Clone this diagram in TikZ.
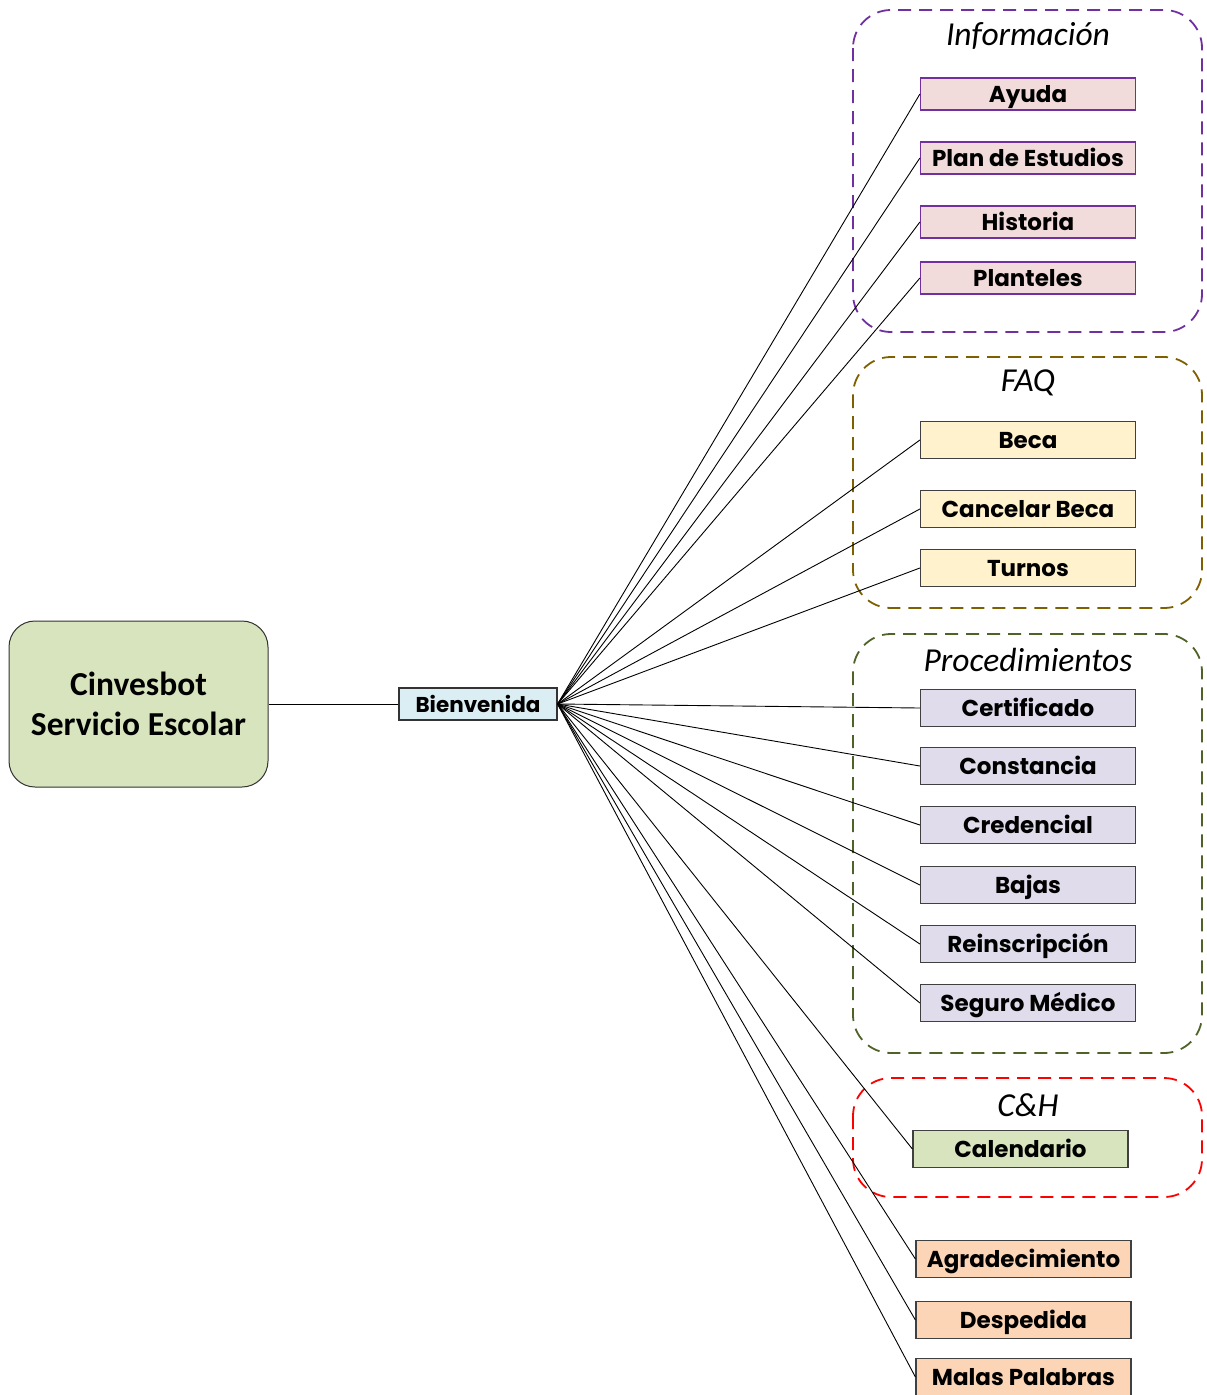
\documentclass[tikz,border=0pt]{standalone}
\usepackage{fontspec}
\setmainfont{Carlito}
\newfontfamily\boxfont{Poppins}
\begin{document}
\begin{tikzpicture}[x=1pt,y=-1pt,
  leaf/.style={draw=black!75,line width=1.2pt,minimum width=215pt,minimum height=37pt,
    inner sep=0pt,text height=17pt,text depth=0pt,
    font=\boxfont\fontsize{23}{26}\selectfont\bfseries},
  infobox/.style={leaf,draw=infoline,fill=infofill,minimum height=32pt},
  faqbox/.style={leaf,fill=faqfill},
  procbox/.style={leaf,fill=procfill},
  calbox/.style={leaf,fill=calfill},
  endbox/.style={leaf,fill=endfill},
  group/.style={rounded corners=38pt,line width=1.8pt,dash pattern=on 13pt off 8pt},
  grouptitle/.style={font=\fontsize{33.5}{38}\selectfont\itshape},
  link/.style={line width=0.9pt}]
\definecolor{infofill}{HTML}{F2DCDB}
\definecolor{faqfill}{HTML}{FFF2CC}
\definecolor{procfill}{HTML}{E0DCEB}
\definecolor{calfill}{HTML}{D7E4BD}
\definecolor{endfill}{HTML}{FBD5B5}
\definecolor{rootfill}{HTML}{D7E4BD}
\definecolor{welcomefill}{HTML}{DBEEF4}
\definecolor{infoline}{HTML}{7030A0}
\definecolor{faqline}{HTML}{7F6000}
\definecolor{procline}{HTML}{4F6228}
\useasboundingbox (0,0) rectangle (1207,1395);
\begin{scope}
\clip (0,0) rectangle (1207,1395);

% group frames
\draw[group,draw=infoline] (853,10) rectangle (1202,332);
\draw[group,draw=faqline] (853,357) rectangle (1202,608);
\draw[group,draw=procline] (853,634) rectangle (1202,1053);
\draw[group,draw=red] (853,1078) rectangle (1202,1197);

\node[grouptitle] (tinfo) at (1028,36) {Información};
\node[grouptitle] (tfaq) at (1028,383) {FAQ};
\node[grouptitle] (tproc) at (1028,660) {Procedimientos};
\node[grouptitle] (tch) at (1028,1105) {C\&H};

% root and welcome
\node[draw=black!80,line width=1pt,fill=rootfill,rounded corners=26pt,minimum width=259pt,
  minimum height=166pt,align=center,font=\fontsize{33.5}{40}\selectfont\bfseries] (root) at (138.5,704)
  {Cinvesbot\\Servicio Escolar};
\node[draw=black!80,line width=1.2pt,fill=welcomefill,minimum width=158pt,minimum height=32pt,
  inner sep=0pt,text height=16pt,text depth=0pt,
  font=\boxfont\fontsize{21.5}{24}\selectfont\bfseries] (welcome) at (478,704) {Bienvenida};

% leaves
\node[infobox] (ayuda) at (1028,94) {Ayuda};
\node[infobox] (plan) at (1028,158) {Plan de Estudios};
\node[infobox] (historia) at (1028,222) {Historia};
\node[infobox] (planteles) at (1028,278) {Planteles};
\node[faqbox] (beca) at (1028,440) {Beca};
\node[faqbox] (cancelar) at (1028,509) {Cancelar Beca};
\node[faqbox] (turnos) at (1028,568) {Turnos};
\node[procbox] (cert) at (1028,708) {Certificado};
\node[procbox] (const) at (1028,766) {Constancia};
\node[procbox] (cred) at (1028,825) {Credencial};
\node[procbox] (bajas) at (1028,885) {Bajas};
\node[procbox] (reins) at (1028,944) {Reinscripción};
\node[procbox] (seguro) at (1028,1003) {Seguro Médico};
\node[calbox] (cal) at (1020.5,1149) {Calendario};
\node[endbox] (agra) at (1023.5,1259) {Agradecimiento};
\node[endbox] (desp) at (1023.5,1320) {Despedida};
\node[endbox] (malas) at (1023.5,1377) {Malas Palabras};

% connectors
\draw[link] (root.east) -- (welcome.west);
\foreach \n in {ayuda,plan,historia,planteles,beca,cancelar,turnos,cert,const,cred,bajas,reins,seguro,cal,agra,desp,malas}
  \draw[link] (welcome.east) -- (\n.west);
\end{scope}
\end{tikzpicture}
\end{document}
